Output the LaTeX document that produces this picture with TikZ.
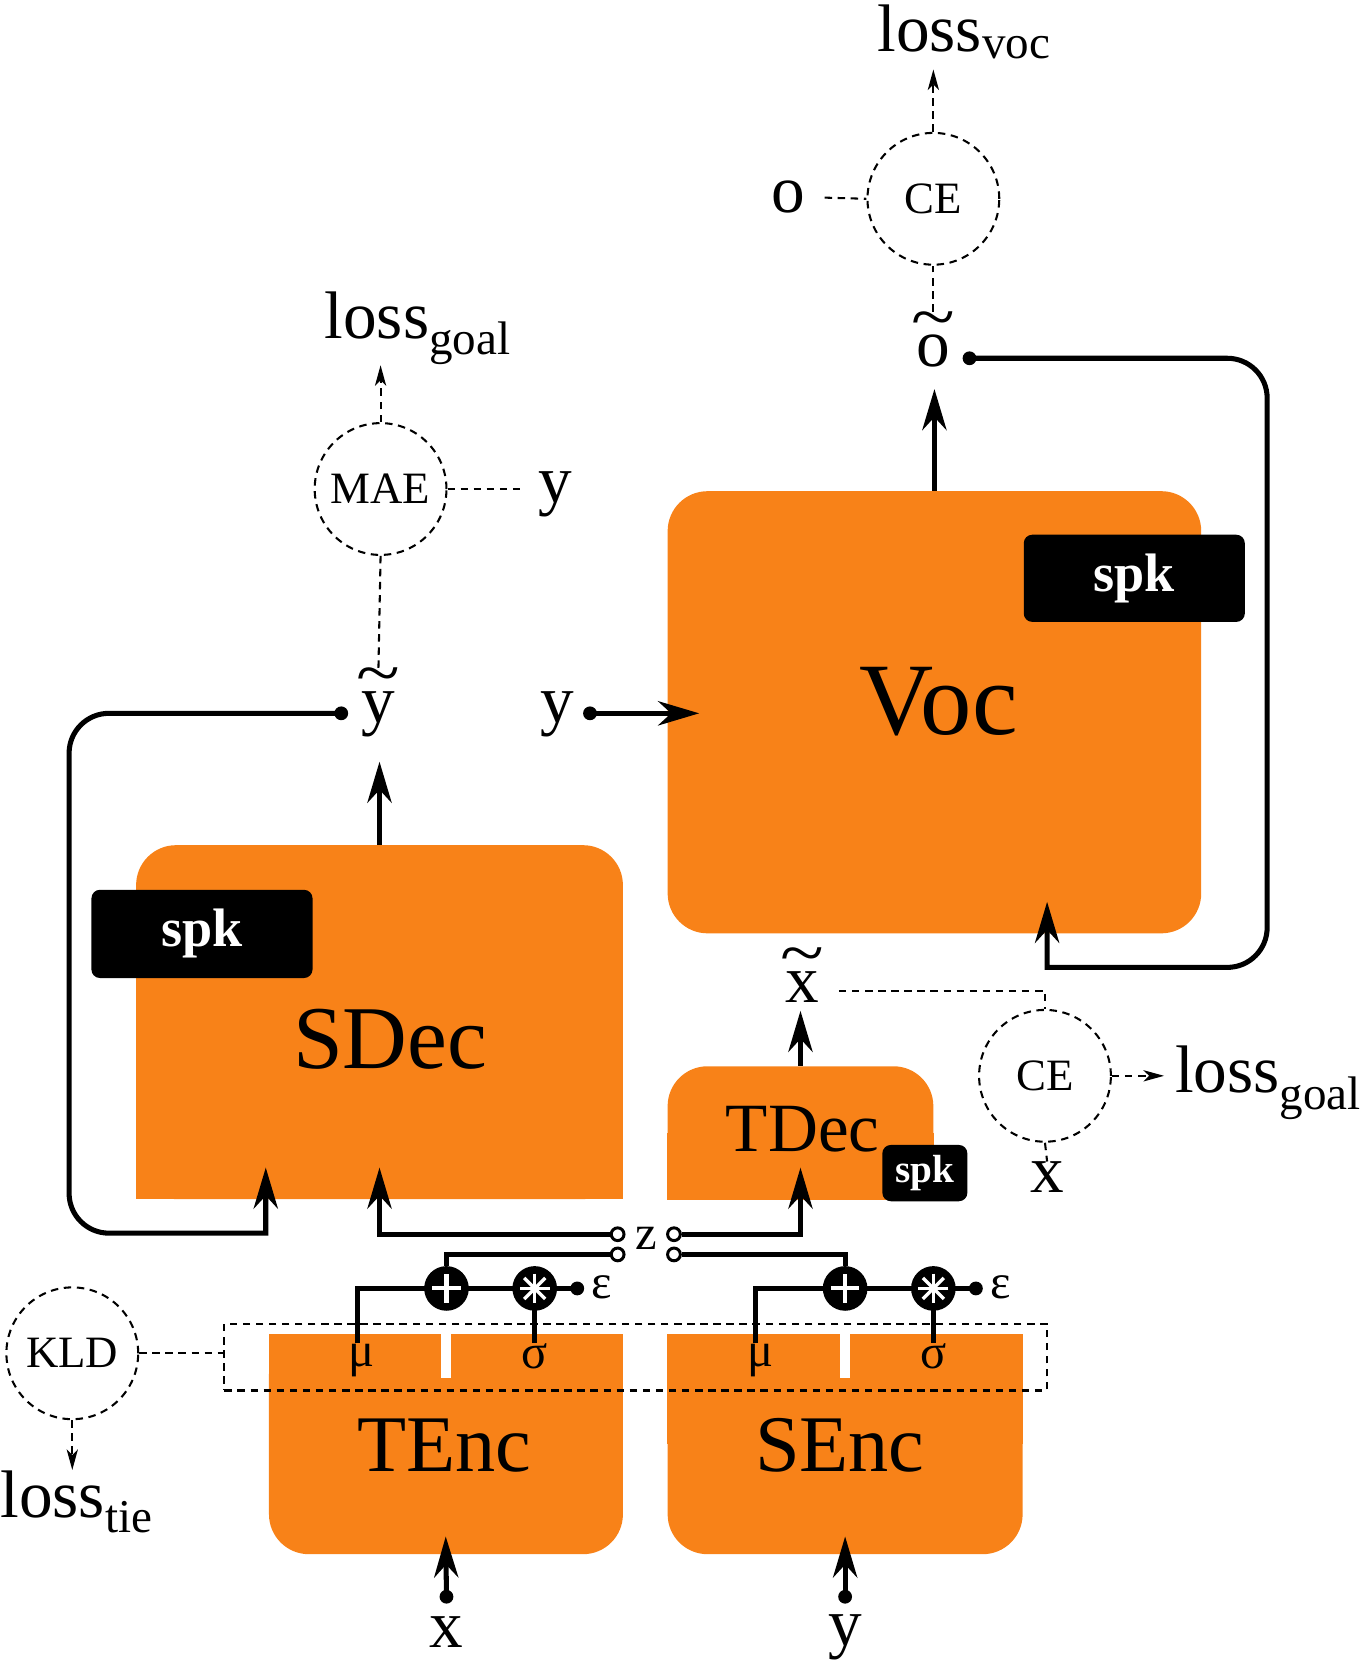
\documentclass[tikz,border=0pt]{standalone}
\usepackage{fontspec}
\setmainfont{Liberation Serif}
\usetikzlibrary{arrows.meta,calc}
\definecolor{blockorange}{RGB}{248,130,24}
\newcommand{\est}[1]{\setbox0\hbox{#1}\makebox[0pt][l]{\makebox[\wd0][c]{\raisebox{0.4em}{\scalebox{1.2}[1]{\char"7E}}}}\box0}

\begin{document}
\begin{tikzpicture}[x=0.02cm, y=-0.02cm,
  block/.style={fill=blockorange, rounded corners=0.75cm, inner sep=0pt},
  spkbox/.style={fill=black, text=white, rounded corners=0.16cm, inner sep=0pt, font=\fontsize{29}{30}\selectfont\bfseries},
  lossnode/.style={draw, circle, minimum size=2.48cm, inner sep=0pt, line width=1.1pt, dash pattern=on 4pt off 3pt, font=\fontsize{24}{26}\selectfont},
  lbl/.style={inner sep=0pt, font=\fontsize{36}{40}\selectfont},
  greek/.style={inner sep=0pt, font=\fontsize{26}{28}\selectfont},
  wire/.style={line width=2.7pt},
  flow/.style={wire, -{Stealth[length=22pt,width=13pt,inset=7pt]}},
  flowin/.style={flow, shorten >=-0.6cm},
  cmp/.style={line width=1.1pt, dash pattern=on 4pt off 3pt},
  cmparrow/.style={cmp, -{Stealth[length=11pt,width=6pt,inset=3pt]}},
  dot/.style={circle, fill, inner sep=0pt, minimum size=0.26cm},
  port/.style={circle, draw, fill=white, line width=1.6pt, inner sep=0pt, minimum size=0.24cm},
  op/.style={circle, fill, inner sep=0pt, minimum size=0.84cm},
  plusop/.style={op, path picture={\draw[white, line width=2.2pt]
      (path picture bounding box.center) +(-0.27cm,0) -- +(0.27cm,0) +(0,-0.27cm) -- +(0,0.27cm);}},
  starop/.style={op, path picture={\foreach \a in {0,45,90,135}
      \draw[white, line width=1.8pt] (path picture bounding box.center) +(\a:0.28cm) -- +(\a+180:0.28cm);}},
]
  \useasboundingbox (0,0) rectangle (1280,1570);

  % blocks
  \node[block, minimum width=10.04cm, minimum height=8.32cm] (voc) at (879,670) {};
  \node[block, minimum width=9.16cm, minimum height=6.66cm] (sdec) at (357,961.5) {};
  \node[block, minimum width=5cm, minimum height=2.5cm] (tdec) at (753,1065.5) {};
  \node[block, minimum width=6.66cm, minimum height=4.14cm] (tenc) at (419.5,1358.5) {};
  \node[block, minimum width=6.68cm, minimum height=4.14cm] (senc) at (795,1358.5) {};
  % square corners
  \fill[blockorange] (sdec.west) rectangle (sdec.south east);
  \fill[blockorange] (tdec.west) rectangle (tdec.south east);
  \fill[blockorange] (tenc.north west) rectangle (tenc.east);
  \fill[blockorange] (senc.north west) rectangle (senc.east);
  % mu / sigma split
  \foreach \b in {tenc,senc}
    \fill[white] ($(\b.north)+(-5,0)$) rectangle ($(\b.north)+(5,42)$);

  \node[font=\fontsize{55}{60}\selectfont] (voctext) at (883,660) {Voc};
  \node[font=\fontsize{48}{52}\selectfont] (sdectext) at (367,978) {SDec};
  \node[font=\fontsize{37}{40}\selectfont] (tdectext) at (755,1062) {TDec};
  \node[font=\fontsize{43}{46}\selectfont] (tenctext) at (418,1360) {TEnc};
  \node[font=\fontsize{43}{46}\selectfont] (senctext) at (790,1360) {SEnc};

  % speaker codes
  \node[spkbox, minimum width=4.16cm, minimum height=1.64cm] (spkvoc) at (1067,544) {spk};
  \node[spkbox, minimum width=4.16cm, minimum height=1.66cm] (spksdec) at (190,878.5) {spk};
  \node[spkbox, minimum width=1.6cm, minimum height=1.06cm, font=\fontsize{21}{22}\selectfont\bfseries] (spktdec) at (870,1103.5) {spk};

  % losses
  \node[lossnode] (cevoc) at (878,187) {CE};
  \node[lossnode] (mae) at (358,460) {MAE};
  \node[lossnode] (cegoal) at (983,1012) {CE};
  \node[lossnode] (kld) at (68,1273) {KLD};
  \node[draw, cmp, minimum width=15.48cm, minimum height=1.26cm, inner sep=0pt] (latent) at (598,1276.5) {};

  % labels
  \node[lbl, anchor=base west] (lossvoc) at (825,48) {loss\textsubscript{voc}};
  \node[lbl, anchor=base] (o) at (742,200) {o};
  \node[lbl, anchor=base] (otil) at (878,345) {\est{o}};
  \node[lbl, anchor=base west] (lossgoalmae) at (305,318) {loss\textsubscript{goal}};
  \node[lbl, anchor=base] (ymae) at (522,473) {y};
  \node[lbl, anchor=base] (ytil) at (356,680) {\est{y}};
  \node[lbl, anchor=base] (yvoc) at (524,680) {y};
  \node[lbl, anchor=base] (xtil) at (755,943) {\est{x}};
  \node[lbl, anchor=base west] (lossgoalce) at (1105,1028) {loss\textsubscript{goal}};
  \node[lbl, anchor=base] (xce) at (985,1122) {x};
  \node[lbl, anchor=base west] (losstie) at (0,1427) {loss\textsubscript{tie}};
  \node[lbl, anchor=base] (xin) at (420,1550) {x};
  \node[lbl, anchor=base] (yin) at (795,1548) {y};
  \node[greek, anchor=base] (z) at (608,1175) {z};
  \node[greek, anchor=base] (mut) at (340,1285) {μ};
  \node[greek, anchor=base] (sigt) at (503,1287) {σ};
  \node[greek, anchor=base] (mus) at (715,1285) {μ};
  \node[greek, anchor=base] (sigs) at (878,1287) {σ};
  \node[greek, anchor=base west] (epst) at (556,1221) {ε};
  \node[greek, anchor=base west] (epss) at (931,1221) {ε};

  % dots and ports
  \node[dot] (ytildot) at (321,671) {};
  \node[dot] (yvocdot) at (555,671) {};
  \node[dot] (otildot) at (912,337) {};
  \node[dot] (xindot) at (420,1502) {};
  \node[dot] (yindot) at (795,1502) {};
  \node[dot] (epstdot) at (543,1212) {};
  \node[dot] (epssdot) at (918,1212) {};

  % turning points
  \coordinate (sdecloopA) at (65,671);
  \coordinate (sdecloopB) at (65,1160);
  \coordinate (sdecloopC) at (250,1160);
  \coordinate (vocloopA) at (1192,337);
  \coordinate (vocloopB) at (1192,910);
  \coordinate (vocloopC) at (985,910);
  \coordinate (cegoalturn) at (983,932);

  % decoder paths
  \draw[flow, shorten >=0.45cm] (sdec.north) -- (sdec.north |- ytil.south);
  \draw[flow, shorten >=0.4cm] (voc.north) -- (voc.north |- otil.south);
  \draw[flow, shorten >=0.15cm] (tdec.north) -- (tdec.north |- xtil.south);
  \draw[flowin] (yvocdot.center) -- (yvocdot -| voc.west);
  \draw[flowin] (ytildot.center) [rounded corners=0.75cm] -- (sdecloopA) -- (sdecloopB)
    [sharp corners] -- (sdecloopC) -- (sdecloopC |- sdec.south);
  \draw[flowin] (otildot.center) [rounded corners=0.75cm] -- (vocloopA) -- (vocloopB)
    [sharp corners] -- (vocloopC) -- (vocloopC |- voc.south);
  \draw[flowin, shorten >=-0.34cm] (xindot.center) -- (tenc.south);
  \draw[flowin, shorten >=-0.34cm] (yindot.center) -- (senc.south);

  % latent sampling
  \draw[wire] ([xshift=-0.08cm]mut.north) |- (epstdot.center);
  \draw[wire] ([xshift=-0.08cm]mus.north) |- (epssdot.center);
  \draw[wire] (sigt.north) -- (sigt.north |- epstdot);
  \draw[wire] (sigs.north) -- (sigs.north |- epssdot);
  \node[plusop] (plust) at (420,1212) {};
  \node[starop] (start) at (503,1212) {};
  \node[plusop] (pluss) at (795,1212) {};
  \node[starop] (stars) at (878,1212) {};
  \node[port] (zlt) at (581,1161) {};
  \node[port] (zlb) at (581,1180) {};
  \node[port] (zrt) at (634,1161) {};
  \node[port] (zrb) at (634,1180) {};
  \draw[wire] (zlb.west) -| (plust.north);
  \draw[wire] (zrb.east) -| (pluss.north);
  \draw[flowin] (zlt.west) -| (sdec.south);
  \draw[flowin] (zrt.east) -| (tdec.south);

  % loss connections
  \draw[cmparrow, shorten >=0.2cm] (cevoc.north) -- (cevoc.north |- lossvoc.south);
  \draw[cmp, shorten <=0.35cm] (o.east) -- (cevoc.west);
  \draw[cmp] (otil.north) -- (cevoc.south);
  \draw[cmparrow] (mae.north) -- (mae.north |- lossgoalmae.south);
  \draw[cmp, shorten >=0.3cm] (mae.east) -- (mae.east -| ymae.west);
  \draw[cmp] (ytil.north) -- (mae.south);
  \draw[cmp, shorten <=0.36cm] (xtil.east |- cegoalturn) -- (cegoalturn) -- (cegoal.north);
  \draw[cmparrow, shorten >=0.2cm] (cegoal.east) -- (cegoal.east -| lossgoalce.west);
  \draw[cmp] (cegoal.south) -- (xce.north);
  \draw[cmp] (kld.east) -- (kld.east -| latent.west);
  \draw[cmparrow] (kld.south) -- (kld.south |- losstie.north);
\end{tikzpicture}
\end{document}
